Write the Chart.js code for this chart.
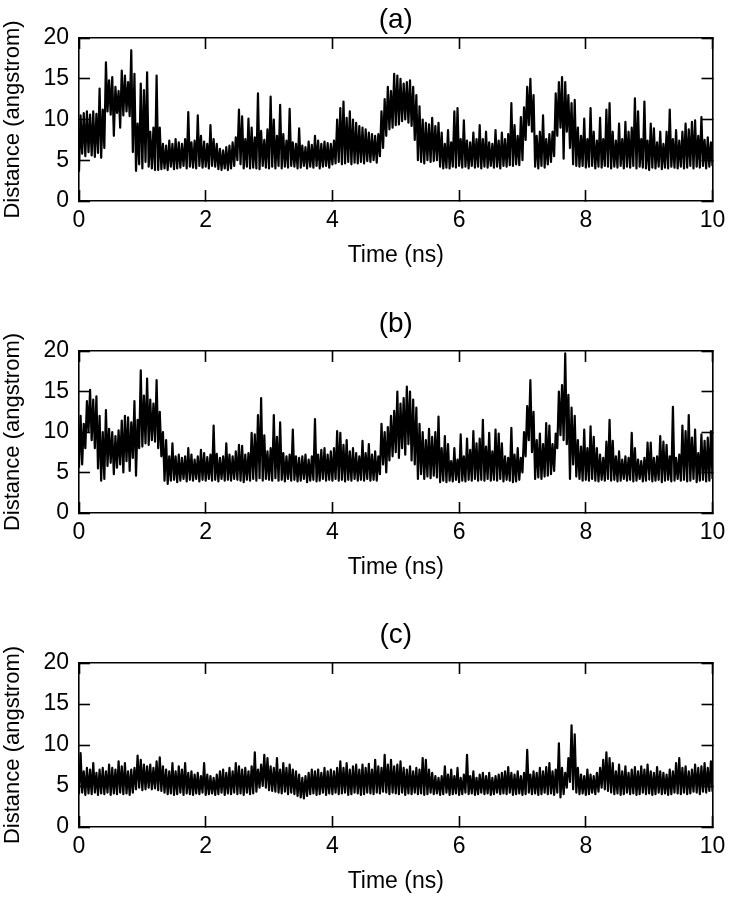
<!DOCTYPE html>
<html>
<head>
<meta charset="utf-8">
<script src="https://cdn.jsdelivr.net/npm/chart.js@4.4.1/dist/chart.umd.min.js"></script>
<style>
  html, body { margin: 0; padding: 0; background: #fff; overflow: hidden; }
  canvas { position: absolute; left: 0; }
</style>
</head>
<body>
<canvas id="chartA" width="742" height="274" style="top:0px"></canvas>
<canvas id="chartB" width="742" height="281" style="top:305px"></canvas>
<canvas id="chartC" width="742" height="284" style="top:616px"></canvas>
<script>
// sampling step of the traces (ns); each bin has an upper and a lower reading
var STEP = 0.05;

var xTicks = [0, 2, 4, 6, 8, 10];
var yTicks = [0, 5, 10, 15, 20];

// (a)
var aHi = [
  10.5, 10.8, 11.0, 10.6, 11.0, 10.7, 13.8, 11.2, 17.0, 14.8,
  15.2, 14.0, 13.5, 16.0, 15.4, 14.6, 18.5, 15.6, 9.5, 14.4,
  13.6, 15.8, 8.5, 9.0, 15.4, 9.0, 7.0, 6.8, 7.4, 7.0,
  7.6, 7.2, 7.0, 7.6, 10.9, 7.2, 7.4, 10.5, 8.0, 7.3,
  7.0, 9.3, 7.6, 7.0, 6.4, 6.2, 6.6, 6.8, 7.2, 7.8,
  11.2, 10.4, 7.6, 10.1, 9.0, 7.8, 13.2, 8.6, 7.5, 8.8,
  12.8, 10.0, 8.0, 11.8, 8.2, 7.4, 11.3, 7.2, 7.0, 8.9,
  6.8, 6.6, 7.3, 6.9, 8.0, 7.4, 7.0, 7.3, 7.1, 7.0,
  7.4, 10.0, 11.4, 12.2, 10.2, 11.0, 10.0, 9.6, 9.2, 9.0,
  8.8, 8.4, 8.2, 8.0, 8.2, 11.0, 12.5, 14.0, 13.5, 15.6,
  15.4, 15.0, 14.4, 14.6, 14.8, 14.0, 13.0, 11.6, 10.0, 9.6,
  9.4, 10.2, 9.2, 9.6, 8.4, 7.0, 8.7, 7.2, 11.0, 11.4,
  7.6, 9.9, 7.4, 7.2, 8.4, 7.6, 9.3, 7.6, 8.5, 7.2,
  7.0, 8.7, 7.4, 8.4, 7.6, 8.2, 12.0, 9.3, 8.0, 10.3,
  11.5, 14.0, 15.0, 13.0, 8.0, 8.5, 10.5, 7.6, 8.2, 8.5,
  13.2, 14.6, 15.2, 14.6, 13.0, 12.0, 12.4, 9.0, 8.0, 10.1,
  7.6, 11.4, 8.5, 7.4, 10.2, 7.6, 11.2, 12.0, 8.5, 7.4,
  9.5, 7.6, 9.7, 8.5, 9.0, 12.6, 11.0, 7.6, 12.2, 7.4,
  9.5, 8.9, 7.2, 8.5, 7.0, 8.5, 11.2, 7.6, 8.7, 7.4,
  8.5, 9.5, 8.8, 9.7, 9.9, 8.0, 10.3, 7.5, 7.8, 7.2,
  6.5
];
var aLo = [
  3.6, 5.8, 5.5, 6.0, 5.6, 5.4, 5.9, 5.3, 6.5, 11.0,
  10.6, 8.0, 10.8, 9.0, 10.5, 11.0, 10.4, 6.0, 3.7, 4.5,
  4.0, 4.8, 4.2, 4.0, 3.8, 3.8, 3.9, 4.0, 3.8, 4.2,
  3.9, 4.0, 4.1, 4.3, 4.0, 4.2, 4.1, 4.0, 4.3, 4.1,
  4.2, 4.0, 4.3, 4.2, 3.9, 3.8, 4.0, 3.8, 4.0, 4.3,
  5.0, 4.5, 4.0, 4.2, 4.0, 4.1, 4.0, 3.9, 4.3, 4.1,
  4.0, 4.2, 4.0, 4.3, 4.0, 4.2, 4.1, 4.3, 4.2, 4.0,
  4.1, 4.3, 4.0, 4.2, 4.1, 4.3, 4.0, 4.2, 4.3, 4.1,
  4.5, 4.6, 4.8, 4.5, 4.6, 4.8, 4.5, 4.7, 4.6, 4.8,
  4.6, 4.9, 4.8, 5.0, 4.7, 5.5, 6.5, 8.0, 8.8, 9.0,
  9.3, 9.4, 9.8, 10.0, 9.6, 9.2, 7.5, 5.0, 4.8, 4.6,
  5.0, 4.8, 4.9, 5.0, 4.2, 4.0, 4.1, 4.0, 4.2, 4.1,
  4.3, 4.1, 4.2, 4.0, 4.3, 4.1, 4.2, 4.0, 4.2, 4.1,
  4.3, 4.1, 4.2, 4.0, 4.3, 4.2, 4.4, 4.3, 4.5, 4.4,
  5.0, 7.5, 9.3, 8.5, 4.2, 4.0, 4.3, 4.1, 4.5, 4.8,
  5.5, 8.0, 9.0, 5.2, 8.5, 6.5, 4.5, 4.3, 4.2, 4.3,
  4.1, 4.2, 4.3, 4.0, 4.2, 4.1, 4.3, 4.2, 4.0, 4.2,
  4.1, 4.3, 4.0, 4.2, 4.1, 4.3, 4.0, 4.2, 4.1, 4.0,
  3.8, 4.1, 4.0, 4.2, 3.9, 4.1, 4.0, 4.2, 4.1, 4.0,
  4.2, 4.0, 4.1, 4.3, 4.0, 4.2, 4.1, 4.3, 4.0, 4.2,
  4.3
];

// (b)
var bHi = [
  12.0, 11.0, 13.8, 15.2, 14.0, 14.4, 12.0, 10.0, 12.7, 10.4,
  10.0, 9.5, 10.2, 11.4, 12.0, 11.8, 11.2, 13.8, 11.5, 17.6,
  14.5, 16.6, 14.0, 13.5, 16.4, 12.5, 10.0, 9.0, 7.0, 8.6,
  7.0, 7.2, 6.8, 7.0, 8.0, 7.2, 6.6, 7.0, 7.8, 7.4,
  6.9, 7.2, 10.8, 7.3, 6.8, 7.0, 8.6, 7.2, 7.0, 7.6,
  8.4, 8.3, 7.2, 7.4, 9.9, 9.7, 12.1, 14.2, 9.6, 7.6,
  8.0, 12.1, 9.4, 11.2, 7.4, 7.0, 7.2, 10.3, 7.0, 6.8,
  7.0, 7.2, 6.6, 7.0, 11.6, 7.2, 7.8, 8.0, 7.2, 7.6,
  8.0, 10.1, 9.9, 8.4, 9.0, 7.6, 8.0, 7.4, 7.0, 8.9,
  7.4, 8.5, 7.2, 7.6, 7.0, 11.0, 10.0, 10.6, 12.0, 12.6,
  15.0, 13.5, 14.2, 15.6, 15.0, 14.0, 13.0, 11.0, 10.0, 9.0,
  10.4, 9.4, 10.0, 11.9, 8.0, 9.5, 8.5, 6.4, 8.0, 6.6,
  9.7, 7.0, 9.2, 7.8, 10.1, 8.6, 9.2, 11.5, 8.2, 9.9,
  7.6, 10.3, 9.8, 8.6, 7.0, 6.8, 10.5, 7.2, 8.0, 6.8,
  10.0, 13.2, 16.4, 12.5, 9.0, 9.8, 8.5, 11.1, 10.8, 8.5,
  9.8, 15.0, 15.8, 19.7, 14.6, 13.0, 12.0, 9.0, 8.2, 10.3,
  8.0, 10.7, 9.4, 8.0, 7.2, 6.8, 8.8, 11.5, 8.9, 7.0,
  7.6, 6.6, 7.0, 6.8, 9.9, 8.0, 6.6, 6.4, 6.8, 8.7,
  8.7, 6.8, 7.0, 9.5, 8.8, 8.4, 7.0, 13.1, 6.8, 7.2,
  10.8, 10.1, 12.1, 9.3, 10.3, 7.4, 9.7, 8.9, 9.3, 10.1,
  8.5
];
var bLo = [
  5.6, 6.0, 8.0, 10.0, 9.0, 8.0, 5.5, 4.0, 4.2, 5.8,
  6.2, 4.8, 5.6, 6.0, 5.0, 6.4, 5.2, 6.8, 4.6, 8.0,
  8.2, 8.6, 8.4, 9.0, 8.8, 8.0, 7.0, 4.0, 3.6, 4.0,
  4.1, 3.8, 4.0, 4.2, 3.9, 4.1, 4.0, 4.2, 3.9, 4.1,
  4.0, 4.2, 4.0, 4.1, 3.9, 4.2, 4.0, 4.1, 4.0, 4.2,
  4.1, 4.0, 3.8, 4.1, 4.0, 4.2, 4.0, 4.3, 4.0, 4.2,
  4.1, 4.0, 4.3, 4.0, 4.1, 3.9, 4.2, 4.0, 4.1, 3.9,
  4.0, 4.2, 3.8, 4.0, 4.1, 3.9, 4.0, 4.2, 4.0, 4.1,
  4.0, 4.2, 4.0, 4.1, 3.9, 4.1, 4.0, 4.2, 4.0, 4.1,
  4.0, 4.2, 4.0, 4.1, 4.0, 4.8, 6.0, 5.0, 6.5, 7.0,
  7.5, 6.8, 8.0, 7.2, 8.5, 6.5, 6.0, 4.2, 4.8, 4.2,
  4.5, 4.3, 4.6, 4.4, 3.8, 4.0, 3.8, 4.0, 3.9, 4.1,
  3.8, 4.0, 3.9, 4.1, 4.0, 4.2, 4.0, 4.1, 4.0, 4.2,
  4.0, 4.1, 4.0, 4.2, 3.9, 4.1, 4.0, 3.8, 3.9, 4.1,
  5.0, 7.0, 9.0, 7.5, 4.2, 4.4, 4.2, 4.5, 4.6, 4.8,
  5.2, 8.0, 9.6, 9.0, 8.5, 4.2, 6.0, 4.5, 4.2, 4.0,
  4.1, 4.0, 4.2, 4.0, 3.9, 4.1, 4.0, 4.2, 4.0, 4.1,
  3.9, 4.0, 4.2, 4.0, 4.1, 3.9, 4.0, 4.2, 3.9, 4.0,
  4.1, 3.9, 4.0, 4.1, 3.8, 4.0, 4.1, 3.9, 4.0, 4.2,
  4.0, 4.1, 3.9, 4.0, 4.2, 3.8, 4.0, 4.1, 3.9, 4.0,
  4.2
];

// (c)
var cHi = [
  9.0, 6.8, 7.2, 7.0, 7.8, 6.6, 7.0, 7.2, 6.8, 7.6,
  7.2, 7.0, 8.0, 7.4, 7.8, 6.8, 7.0, 7.2, 8.7, 8.2,
  7.6, 7.4, 7.6, 7.2, 8.0, 8.5, 7.4, 7.0, 6.8, 7.8,
  6.8, 7.4, 7.0, 7.8, 6.6, 6.8, 6.4, 6.6, 6.2, 7.8,
  6.4, 6.2, 6.0, 6.4, 6.8, 7.0, 6.6, 7.2, 6.8, 7.8,
  7.4, 7.0, 7.2, 6.8, 7.4, 9.1, 7.0, 7.6, 8.8, 8.4,
  7.4, 7.2, 8.4, 7.0, 7.8, 7.2, 7.6, 7.0, 6.8, 6.4,
  6.0, 6.2, 6.6, 7.0, 6.8, 7.0, 6.6, 7.2, 6.8, 7.0,
  6.8, 7.2, 8.0, 7.2, 7.8, 7.0, 7.4, 7.6, 7.0, 7.6,
  7.2, 7.7, 7.0, 8.2, 7.4, 7.2, 8.8, 7.6, 8.2, 7.4,
  7.6, 8.0, 7.2, 7.0, 7.4, 6.8, 7.2, 7.0, 8.4, 8.2,
  7.0, 6.6, 6.2, 6.0, 6.2, 7.4, 6.4, 7.0, 6.2, 7.2,
  6.0, 6.4, 8.8, 6.2, 6.8, 6.0, 6.4, 6.6, 6.2, 6.6,
  6.0, 6.2, 6.4, 6.6, 6.8, 7.3, 6.6, 6.4, 6.8, 6.2,
  6.6, 9.4, 6.4, 6.8, 6.6, 7.2, 6.8, 7.3, 7.8, 6.8,
  7.0, 10.2, 7.2, 6.6, 8.4, 12.4, 11.3, 7.2, 6.4, 6.2,
  7.0, 6.4, 6.2, 6.6, 7.2, 8.2, 9.1, 8.4, 7.8, 6.8,
  7.6, 6.8, 7.4, 6.6, 7.0, 7.3, 6.8, 7.4, 7.0, 7.6,
  6.8, 6.6, 7.3, 6.8, 6.6, 6.4, 7.0, 6.8, 7.8, 8.4,
  7.2, 7.4, 6.8, 7.0, 7.6, 7.2, 7.4, 7.8, 7.2, 8.0,
  7.0
];
var cLo = [
  4.0, 4.2, 3.9, 4.1, 4.0, 4.2, 3.9, 4.1, 4.0, 4.2,
  3.9, 4.1, 4.0, 4.2, 4.0, 4.1, 3.9, 4.2, 4.6, 4.8,
  4.5, 4.6, 4.8, 4.6, 4.7, 4.5, 4.4, 4.2, 4.0, 4.1,
  3.9, 4.0, 4.2, 3.9, 4.1, 4.0, 3.9, 4.1, 4.0, 4.2,
  3.9, 4.0, 4.1, 3.9, 4.0, 4.2, 3.9, 4.1, 4.0, 4.2,
  4.0, 4.1, 3.9, 4.2, 4.0, 4.1, 4.3, 4.8, 5.0, 4.8,
  4.5, 4.4, 4.3, 4.2, 4.1, 4.3, 4.0, 4.2, 4.0, 3.8,
  3.6, 3.5, 3.8, 4.0, 4.1, 3.9, 4.0, 4.2, 3.9, 4.1,
  4.0, 4.2, 4.0, 4.1, 4.2, 3.9, 4.0, 4.2, 4.1, 3.9,
  4.0, 4.2, 4.1, 4.0, 4.2, 4.1, 4.3, 4.2, 4.0, 4.2,
  4.1, 4.0, 4.2, 3.9, 4.1, 4.0, 4.2, 4.0, 4.1, 3.9,
  4.0, 4.2, 4.0, 4.1, 3.9, 4.0, 4.2, 3.9, 4.0, 4.1,
  3.9, 4.0, 4.2, 4.0, 4.1, 3.9, 4.0, 4.2, 4.0, 4.1,
  3.9, 4.0, 4.2, 4.0, 4.1, 4.0, 4.2, 3.9, 4.0, 4.1,
  3.9, 4.0, 4.2, 4.0, 4.1, 3.9, 4.0, 4.2, 4.0, 4.1,
  3.9, 4.2, 3.6, 4.0, 4.8, 5.5, 4.6, 4.2, 4.0, 4.1,
  3.9, 4.0, 4.2, 4.0, 4.3, 4.8, 4.6, 4.4, 4.2, 4.0,
  4.1, 3.9, 4.0, 4.2, 4.0, 4.1, 3.9, 4.0, 4.2, 4.0,
  4.1, 3.9, 4.0, 4.2, 4.0, 4.1, 3.9, 4.0, 4.2, 4.1,
  4.0, 4.2, 4.0, 4.1, 4.3, 4.2, 4.0, 4.3, 4.2, 4.4,
  4.3
];

Chart.defaults.font.family = "'Liberation Sans', Arial, Helvetica, sans-serif";
Chart.defaults.color = '#000';

// dense trace: low and high reading of every bin, one after the other
function trace(hi, lo) {
  var pts = [];
  for (var i = 0; i < hi.length; i++) {
    pts.push({ x: i * STEP, y: lo[i] });
    pts.push({ x: i * STEP + STEP / 2, y: hi[i] });
  }
  return pts;
}

var frameGrid = { drawOnChartArea: false, drawTicks: true, tickLength: -11, tickWidth: 1.6, color: '#000' };
var frameBorder = { display: true, color: '#000', width: 1.6 };

function makeChart(id, label, hi, lo, titlePad) {
  var ctx = document.getElementById(id).getContext('2d');
  return new Chart(ctx, {
    type: 'line',
    data: {
      datasets: [{
        data: trace(hi, lo),
        borderColor: '#000',
        borderWidth: 2.2,
        borderJoinStyle: 'round',
        pointRadius: 0,
        // a tiny tension keeps every point (no pixel-column merging)
        tension: 0.0001,
        fill: false
      }]
    },
    options: {
      responsive: false,
      animation: false,
      events: [],
      layout: { padding: 0 },
      plugins: {
        legend: { display: false },
        tooltip: { enabled: false },
        title: {
          display: true,
          text: label,
          fullSize: false,
          color: '#000',
          font: { size: 28, weight: 'normal' },
          padding: titlePad
        }
      },
      scales: {
        x: {
          type: 'linear', position: 'bottom', min: 0, max: 10,
          afterBuildTicks: function (s) { s.ticks = xTicks.map(function (v) { return { value: v }; }); },
          ticks: { padding: 16.7, maxRotation: 0, font: { size: 23 }, color: '#000' },
          grid: frameGrid, border: frameBorder,
          title: { display: true, text: 'Time (ns)', color: '#000', font: { size: 23 }, padding: { top: 0, bottom: 4.2 } },
          afterFit: function (s) { s.height = 73; }
        },
        x2: {
          type: 'linear', position: 'top', min: 0, max: 10,
          afterBuildTicks: function (s) { s.ticks = xTicks.map(function (v) { return { value: v }; }); },
          ticks: { display: false },
          grid: frameGrid, border: frameBorder,
          afterFit: function (s) { s.height = 0; }
        },
        y: {
          type: 'linear', position: 'left', min: 0, max: 20,
          afterBuildTicks: function (s) { s.ticks = yTicks.map(function (v) { return { value: v }; }); },
          ticks: { padding: 21, font: { size: 23 }, color: '#000' },
          grid: frameGrid, border: frameBorder,
          title: { display: true, text: 'Distance (angstrom)', color: '#000', font: { size: 22 }, padding: { top: 0, bottom: 0 } },
          afterFit: function (s) { s.width = 79; }
        },
        y2: {
          type: 'linear', position: 'right', min: 0, max: 20,
          afterBuildTicks: function (s) { s.ticks = yTicks.map(function (v) { return { value: v }; }); },
          ticks: { display: false },
          grid: frameGrid, border: frameBorder,
          afterFit: function (s) { s.width = 18; }
        }
      }
    }
  });
}

makeChart('chartA', '(a)', aHi, aLo, { top: 3, bottom: 1.4 });
makeChart('chartB', '(b)', bHi, bLo, { top: 2, bottom: 10.4 });
makeChart('chartC', '(c)', cHi, cLo, { top: 2, bottom: 11.4 });
</script>
</body>
</html>
